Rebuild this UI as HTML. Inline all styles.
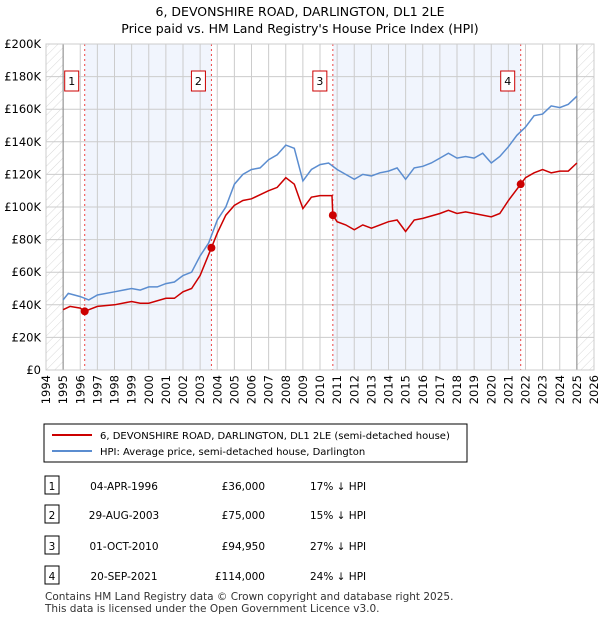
<!DOCTYPE html>
<html><head><meta charset="utf-8"><style>
body{margin:0;background:#fff;font-family:"Liberation Sans","DejaVu Sans",sans-serif;}
svg text{font-family:"DejaVu Sans","Liberation Sans",sans-serif;}
</style></head><body>
<svg width="600" height="620" xmlns="http://www.w3.org/2000/svg">
<defs><pattern id="hatch" width="6" height="6" patternUnits="userSpaceOnUse" patternTransform="rotate(45)"><line x1="0" y1="0" x2="0" y2="6" stroke="#d8d8d8" stroke-width="1"/></pattern></defs>
<text x="300" y="16" text-anchor="middle" font-size="12.5" fill="#000">6, DEVONSHIRE ROAD, DARLINGTON, DL1 2LE</text>
<text x="300" y="33" text-anchor="middle" font-size="12.5" fill="#000">Price paid vs. HM Land Registry's House Price Index (HPI)</text>
<g id="plot"></g>
<g id="legend">
<rect x="44" y="424" width="423" height="38" fill="#fff" stroke="#000" stroke-width="1"/>
<line x1="52" y1="435" x2="92" y2="435" stroke="#cc0000" stroke-width="2"/>
<text x="100" y="439" font-size="10">6, DEVONSHIRE ROAD, DARLINGTON, DL1 2LE (semi-detached house)</text>
<line x1="52" y1="451" x2="92" y2="451" stroke="#5b8dd0" stroke-width="2"/>
<text x="100" y="455" font-size="10">HPI: Average price, semi-detached house, Darlington</text>
</g>
<g id="table" font-size="10.5"></g>
<text x="45" y="600" font-size="10.5" fill="#333">Contains HM Land Registry data © Crown copyright and database right 2025.</text>
<text x="45" y="612" font-size="10.5" fill="#333">This data is licensed under the Open Government Licence v3.0.</text>
</svg>
<script>
const NS="http://www.w3.org/2000/svg";
const hpiYears=[1995,1995.3,1996,1996.5,1997,1998,1999,1999.5,2000,2000.5,2001,2001.5,2002,2002.5,2003,2003.5,2004,2004.5,2005,2005.5,2006,2006.5,2007,2007.5,2008,2008.5,2009,2009.5,2010,2010.5,2011,2011.5,2012,2012.5,2013,2013.5,2014,2014.5,2015,2015.5,2016,2016.5,2017,2017.5,2018,2018.5,2019,2019.5,2020,2020.5,2021,2021.5,2022,2022.5,2023,2023.5,2024,2024.5,2025];
const hpiValues=[43,47,45,43,46,48,50,49,51,51,53,54,58,60,70,78,92,100,114,120,123,124,129,132,138,136,116,123,126,127,123,120,117,120,119,121,122,124,117,124,125,127,130,133,130,131,130,133,127,131,137,144,149,156,157,162,161,163,168];
const ppYears=[1995,1995.4,1996,1996.26,1997,1998,1999,1999.5,2000,2001,2001.5,2002,2002.5,2003,2003.66,2004,2004.5,2005,2005.5,2006,2007,2007.5,2008,2008.5,2009,2009.5,2010,2010.7,2010.75,2011,2011.5,2012,2012.5,2013,2014,2014.5,2015,2015.5,2016,2017,2017.5,2018,2018.5,2019,2020,2020.5,2021,2021.72,2022,2022.5,2023,2023.5,2024,2024.5,2025];
const ppValues=[37,39,38,36,39,40,42,41,41,44,44,48,50,58,75,84,95,101,104,105,110,112,118,114,99,106,107,107,95,91,89,86,89,87,91,92,85,92,93,96,98,96,97,96,94,96,104,114,118,121,123,121,122,122,127];
const saleIds=["1","2","3","4"];
const saleYears=[1996.26,2003.66,2010.75,2021.72];
const salePrices=[36000,75000,94950,114000];
const saleDates=["04-APR-1996","29-AUG-2003","01-OCT-2010","20-SEP-2021"];
const saleHpi=["17% ↓ HPI","15% ↓ HPI","27% ↓ HPI","24% ↓ HPI"];
const yTicks=[0,20,40,60,80,100,120,140,160,180,200];
const xTicks=[1994,1995,1996,1997,1998,1999,2000,2001,2002,2003,2004,2005,2006,2007,2008,2009,2010,2011,2012,2013,2014,2015,2016,2017,2018,2019,2020,2021,2022,2023,2024,2025,2026];
const X0=46,X1=594,Y0=370,Y1=44;
const xs=y=>X0+(y-1994)/32*(X1-X0);
const ys=v=>Y0-v/200*(Y0-Y1);
const plot=document.getElementById('plot');
function mk(tag,attrs,parent){const e=document.createElementNS(NS,tag);for(const k in attrs)e.setAttribute(k,attrs[k]);(parent||plot).appendChild(e);return e;}
for(let i=0;i<saleYears.length;i+=2){
 const r=mk('rect',{x:xs(saleYears[i]),y:Y1,width:xs(saleYears[i+1])-xs(saleYears[i]),height:Y0-Y1,fill:'#eef3fc',opacity:0.8});
 
 
}
const h1=mk('rect',{x:xs(1994),y:Y1,width:xs(1995)-xs(1994),height:Y0-Y1,fill:'url(#hatch)'});


const h2=mk('rect',{x:xs(2025),y:Y1,width:xs(2026)-xs(2025),height:Y0-Y1,fill:'url(#hatch)'});


xTicks.forEach(t=>{
 const l=mk('line',{x1:xs(t),x2:xs(t),y1:Y1,y2:Y0,stroke:'#cccccc','stroke-width':1});
 
 
 const tx=mk('text',{x:0,y:0,'font-size':11.5,'text-anchor':'end',transform:`translate(${xs(t)+4},${Y0+5}) rotate(-90)`});
 tx.textContent=t;
 
 
});
yTicks.forEach(t=>{
 const l=mk('line',{x1:X0,x2:X1,y1:ys(t),y2:ys(t),stroke:'#cccccc','stroke-width':1});
 
 
 const tx=mk('text',{x:X0-5,y:ys(t)+4,'font-size':11.5,'text-anchor':'end'});
 tx.textContent=t===0?'£0':'£'+t+'K';
 
 
});
mk('line',{x1:xs(1995),x2:xs(1995),y1:Y1,y2:Y0,stroke:'#888','stroke-width':1});
mk('line',{x1:xs(2025),x2:xs(2025),y1:Y1,y2:Y0,stroke:'#888','stroke-width':1});
saleYears.forEach((y,i)=>{
 const l=mk('line',{x1:xs(y),x2:xs(y),y1:Y1,y2:Y0,stroke:'#ee4444','stroke-width':1,'stroke-dasharray':'2,3'});
 
 
 const r=mk('rect',{x:xs(y)-20,y:71,width:14,height:20,fill:'#fff',stroke:'#cc0000','stroke-width':1});
 
 
 const t=mk('text',{x:xs(y)-13,y:85,'font-size':11,'text-anchor':'middle'});
 t.textContent=saleIds[i];
 
 
});
const hp=mk('path',{d:hpiYears.map((y,i)=>(i?'L':'M')+xs(y).toFixed(1)+','+ys(hpiValues[i]).toFixed(1)).join(''),fill:'none',stroke:'#5b8dd0','stroke-width':1.5});


const pp=mk('path',{d:ppYears.map((y,i)=>(i?'L':'M')+xs(y).toFixed(1)+','+ys(ppValues[i]).toFixed(1)).join(''),fill:'none',stroke:'#cc0000','stroke-width':1.5});


saleYears.forEach((y,i)=>{
 const c=mk('circle',{cx:xs(y),cy:ys(salePrices[i]/1000),r:4,fill:'#cc0000'});
 
 
});
mk('rect',{x:X0,y:Y1,width:X1-X0,height:Y0-Y1,fill:'none',stroke:'#ccc','stroke-width':1});
const tb=document.getElementById('table');
const rowY=[486,515,546,576];
saleIds.forEach((id,i)=>{
 const y=rowY[i];
 const r=mk('rect',{x:45,y:y-10,width:14,height:18,fill:'#fff',stroke:'#000','stroke-width':1},tb);
 
 
 const vals=[[52,id,'middle'],[124,saleDates[i],'middle'],[265,'£'+salePrices[i].toLocaleString('en-GB'),'end'],[310,saleHpi[i],'start']];
 vals.forEach(v=>{
  const t=mk('text',{x:v[0],y:y+4,'text-anchor':v[2]},tb);
  t.textContent=v[1];
  
  
 });
});
</script>
</body></html>
